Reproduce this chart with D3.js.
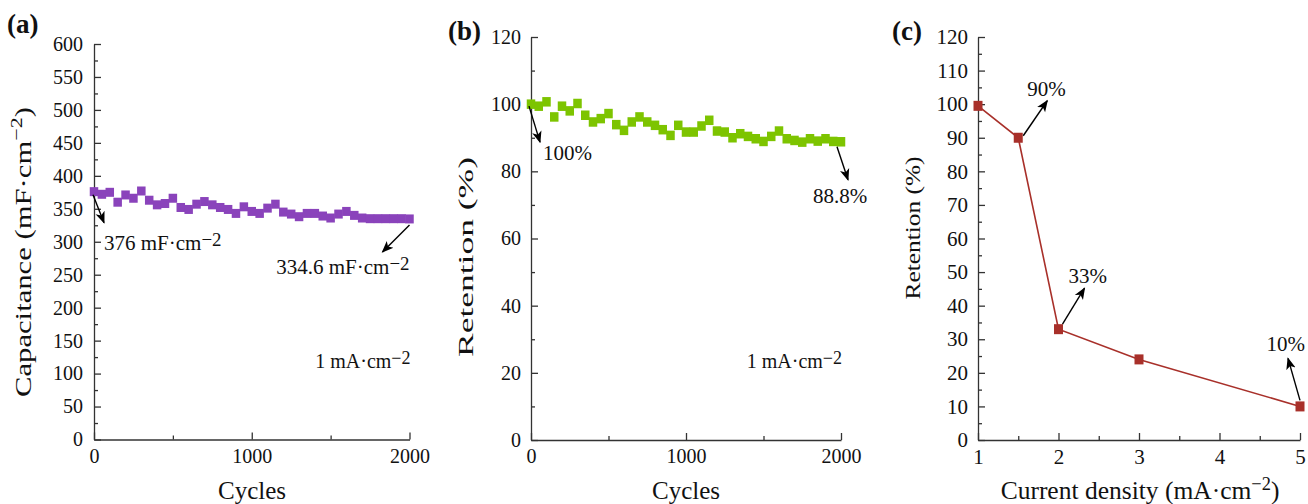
<!DOCTYPE html>
<html>
<head>
<meta charset="utf-8">
<script src="https://cdn.jsdelivr.net/npm/d3@7"></script>
<style>
  body { margin: 0; background: #fff; }
  svg { display: block; }
  svg text { font-family: 'Liberation Serif', 'Times New Roman', Tinos, Times, serif; }
  .axis path, .axis line { stroke: #333; stroke-width: 1.3; }
  .axis text { fill: #111; }
</style>
</head>
<body>
<svg id="chart" width="1308" height="504"></svg>
<script>
// cycles for panels (a) and (b)
const cycles = [0, 50, 100, 150, 200, 250, 300, 350, 400, 450, 500, 550, 600, 650, 700, 750,
  800, 850, 900, 950, 1000, 1050, 1100, 1150, 1200, 1250, 1300, 1350, 1400, 1450, 1500,
  1550, 1600, 1650, 1700, 1750, 1800, 1850, 1900, 1950, 2000];

// (a) capacitance, mF/cm2
const capacitance = [376, 372, 375, 360, 371, 366, 377, 363, 356, 358, 366, 352, 349, 357, 361,
  356, 352, 349, 343, 353, 346, 343, 351, 357, 345, 342, 338, 343, 343, 339, 336,
  342, 346, 340, 336, 335, 335, 335, 335, 335, 334.6];

// (b) retention, %
const retention = [100, 99.4, 100.7, 96.2, 99.4, 98, 100.2, 96.7, 94.7, 95.7, 97.2, 93.9, 92.2,
  94.7, 96.2, 94.7, 93.7, 92.4, 90.7, 93.7, 91.7, 91.7, 93.5, 95.2, 92, 91.7, 90, 91.2,
  90.4, 89.7, 88.9, 90.4, 92, 89.7, 89.2, 88.7, 89.7, 89, 89.7, 88.9, 88.8];

// (c) rate capability
const currentDensity = [1, 1.5, 2, 3, 5];
const rateRetention = [99.5, 90, 33, 24, 10];

const cycleTicks = [0, 1000, 2000];
const densityTicks = [1, 2, 3, 4, 5];

const svg = d3.select("#chart");

svg.append("defs").append("marker")
    .attr("id", "arrow")
    .attr("viewBox", "0 0 10 10")
    .attr("refX", 9).attr("refY", 5)
    .attr("markerUnits", "userSpaceOnUse")
    .attr("markerWidth", 12).attr("markerHeight", 12)
    .attr("orient", "auto")
  .append("path")
    .attr("d", "M0,1 L10,5 L0,9 L2.5,5 Z")
    .attr("fill", "#000");

// text with "−2" superscripts; parts = [[str, isSup], ...]
function rich(sel, parts, supScale, raise) {
  let up = false;
  parts.forEach(p => {
    const t = sel.append("tspan").text(p[0]);
    if (p[1]) {
      t.attr("font-size", supScale + "em").attr("dy", -raise);
      up = true;
    } else if (up) {
      t.attr("dy", raise);
      up = false;
    }
  });
  return sel;
}

function panel(cfg) {
  const x = d3.scaleLinear().domain(cfg.xDomain).range(cfg.xRange);
  const y = d3.scaleLinear().domain(cfg.yDomain).range(cfg.yRange);
  const g = svg.append("g");
  const x0 = cfg.xRange[0], y0 = cfg.yRange[0];
  const fmt = d3.format("d");

  // minor ticks
  g.append("g").attr("class", "axis").attr("transform", `translate(${x0},0)`)
    .call(d3.axisLeft(y).tickValues(cfg.yMinor).tickSize(-4).tickFormat(""))
    .select(".domain").remove();
  g.append("g").attr("class", "axis").attr("transform", `translate(0,${y0})`)
    .call(d3.axisBottom(x).tickValues(cfg.xMinor).tickSize(-4).tickFormat(""))
    .select(".domain").remove();

  // major ticks + domain
  const ya = g.append("g").attr("class", "axis").attr("transform", `translate(${x0},0)`)
    .call(d3.axisLeft(y).tickValues(cfg.yTicks).tickFormat(fmt)
      .tickSize(-7).tickSizeOuter(0).tickPadding(cfg.yPad));
  ya.attr("font-family", null).attr("font-size", cfg.tickFont);
  const xa = g.append("g").attr("class", "axis").attr("transform", `translate(0,${y0})`)
    .call(d3.axisBottom(x).tickValues(cfg.xTicks).tickFormat(fmt)
      .tickSize(-7).tickSizeOuter(0).tickPadding(9));
  xa.attr("font-family", null).attr("font-size", cfg.tickFont);

  // series
  if (cfg.line) {
    g.append("path")
      .attr("d", d3.line().x(d => x(d[0])).y(d => y(d[1]))(cfg.xs.map((v, i) => [v, cfg.ys[i]])))
      .attr("fill", "none").attr("stroke", cfg.color).attr("stroke-width", 1.6);
  }
  g.selectAll("rect.pt").data(cfg.ys).enter().append("rect")
    .attr("class", "pt")
    .attr("x", (d, i) => x(cfg.xs[i]) - cfg.mw / 2)
    .attr("y", d => y(d) - cfg.mh / 2)
    .attr("width", cfg.mw).attr("height", cfg.mh)
    .attr("fill", cfg.color);

  // annotations anchored on data points
  cfg.notes.forEach(n => {
    const px = x(n.at[0]), py = y(n.at[1]);
    g.append("line")
      .attr("x1", px + n.from[0]).attr("y1", py + n.from[1])
      .attr("x2", px + n.to[0]).attr("y2", py + n.to[1])
      .attr("stroke", "#000").attr("stroke-width", 1.4)
      .attr("marker-end", "url(#arrow)");
    const t = g.append("text")
      .attr("x", px + n.text[0]).attr("y", py + n.text[1])
      .attr("font-size", 21).attr("text-anchor", n.anchor || "start").attr("fill", "#111");
    rich(t, n.label, 0.9, 4);
  });

  if (cfg.condition) {
    const t = svg.append("text")
      .attr("x", cfg.xRange[1] + 1).attr("y", 368)
      .attr("font-size", 20).attr("text-anchor", "end").attr("fill", "#111");
    rich(t, [["1 mA·cm", false], ["−2", true]], 0.9, 4);
  }

  // axis titles
  const yt = svg.append("text")
    .attr("transform", `translate(${cfg.yTitle.x},${cfg.yTitle.y}) rotate(-90)`)
    .attr("font-size", cfg.yTitle.size).attr("text-anchor", "middle").attr("fill", "#111")
    .attr("textLength", cfg.yTitle.len).attr("lengthAdjust", "spacingAndGlyphs");
  rich(yt, cfg.yTitle.parts, 0.72, 9);

  const xt = svg.append("text")
    .attr("x", cfg.xTitle.x).attr("y", 499)
    .attr("font-size", cfg.xTitle.size).attr("text-anchor", "middle").attr("fill", "#111");
  rich(xt, cfg.xTitle.parts, 0.72, 9);

  svg.append("text")
    .attr("x", cfg.tag.x).attr("y", cfg.tag.y)
    .attr("font-size", 27).attr("font-weight", "bold").attr("fill", "#111")
    .text(cfg.tag.s);
}

panel({
  xDomain: [0, 2000], xRange: [94, 409.5],
  yDomain: [0, 600], yRange: [439.5, 44],
  xTicks: cycleTicks, xMinor: [500, 1500],
  yTicks: d3.range(0, 601, 50), yMinor: d3.range(25, 600, 50),
  yPad: 11, tickFont: 20,
  xs: cycles, ys: capacitance, color: "#8a43bb", mw: 8.5, mh: 9,
  condition: true,
  notes: [
    { at: [0, 376], from: [-1, 3], to: [10, 31], text: [10, 58], label: [["376 mF·cm", false], ["−2", true]] },
    { at: [2000, 334.6], from: [0, 6], to: [-27, 33], text: [0, 55], anchor: "end", label: [["334.6 mF·cm", false], ["−2", true]] }
  ],
  yTitle: { x: 31, y: 252, size: 24, len: 290, parts: [["Capacitance (mF·cm", false], ["−2", true], [")", false]] },
  xTitle: { x: 252, size: 25, parts: [["Cycles", false]] },
  tag: { x: 7, y: 33, s: "(a)" }
});

panel({
  xDomain: [0, 2000], xRange: [531, 841],
  yDomain: [0, 120], yRange: [440, 37],
  xTicks: cycleTicks, xMinor: [500, 1500],
  yTicks: d3.range(0, 121, 20), yMinor: d3.range(10, 120, 20),
  yPad: 10, tickFont: 20,
  xs: cycles, ys: retention, color: "#7dc400", mw: 8.5, mh: 9.5,
  condition: true,
  notes: [
    { at: [0, 100], from: [-2, 2], to: [9, 38], text: [12, 56], label: [["100%", false]] },
    { at: [2000, 88.8], from: [-4, 5], to: [7, 38], text: [-28, 61], label: [["88.8%", false]] }
  ],
  yTitle: { x: 473, y: 257, size: 21, len: 200, parts: [["Retention (%)", false]] },
  xTitle: { x: 686, size: 25, parts: [["Cycles", false]] },
  tag: { x: 448, y: 40, s: "(b)" }
});

panel({
  xDomain: [1, 5], xRange: [978, 1300],
  yDomain: [0, 120], yRange: [440, 37],
  xTicks: densityTicks, xMinor: [1.5, 2.5, 3.5, 4.5],
  yTicks: d3.range(0, 121, 10), yMinor: d3.range(5, 120, 10),
  yPad: 10, tickFont: 21,
  xs: currentDensity, ys: rateRetention, color: "#a8302a", mw: 9, mh: 10,
  line: true, condition: false,
  notes: [
    { at: [1.5, 90], from: [5, -2], to: [29, -37], text: [9, -42], label: [["90%", false]] },
    { at: [2, 33], from: [4, -5], to: [26, -41], text: [10, -46], label: [["33%", false]] },
    { at: [5, 10], from: [0, -6], to: [-12, -48], text: [5, -55], anchor: "end", label: [["10%", false]] }
  ],
  yTitle: { x: 920, y: 228, size: 22, len: 143, parts: [["Retention (%)", false]] },
  xTitle: { x: 1140, size: 25.5, parts: [["Current density (mA·cm", false], ["−2", true], [")", false]] },
  tag: { x: 892, y: 40, s: "(c)" }
});
</script>
</body>
</html>
